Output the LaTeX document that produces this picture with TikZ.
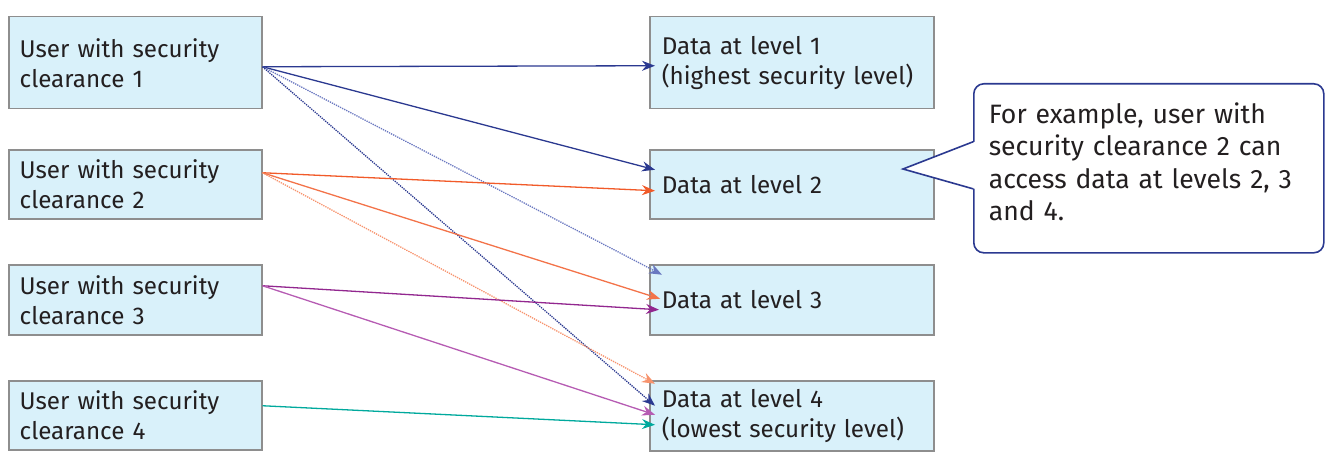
\documentclass[tikz,border=0pt]{standalone}
\usepackage{fontspec}
\setmainfont{Fira Sans}
\usetikzlibrary{arrows.meta}
\definecolor{boxfill}{HTML}{D9F1FA}
\definecolor{boxline}{HTML}{8E8E8E}
\definecolor{txt}{HTML}{231F20}
\definecolor{dblue}{HTML}{2B3990}
\definecolor{lblue}{HTML}{6A78C0}
\definecolor{orng}{HTML}{F15A29}
\definecolor{lorng}{HTML}{F7936D}
\definecolor{purp}{HTML}{92278F}
\definecolor{lpurp}{HTML}{B65CB3}
\definecolor{teal}{HTML}{00A99D}
\tikzset{
  box/.style={draw=boxline, line width=1.5pt, fill=boxfill, anchor=north west,
    align=left, inner xsep=11pt, inner ysep=0pt, text=txt,
    font=\fontsize{24.2}{30}\selectfont},
  leftbox/.style={box, minimum width=253pt, text width=231pt},
  rightbox/.style={box, minimum width=284pt, text width=260pt, inner xsep=12pt},
  conn/.style={line width=1.3pt, -{Stealth[length=13pt,width=10pt]}},
  calloutbox/.style={draw=dblue, line width=1.6pt, fill=white, rounded corners=10pt,
    anchor=north west, minimum width=345pt, minimum height=169pt,
    align=left, text width=320pt, inner xsep=15pt, text=txt,
    font=\fontsize{26.6}{32.5}\selectfont}
}
\begin{document}
\begin{tikzpicture}[x=1pt,y=-1pt]
\useasboundingbox (0,0) rectangle (1337,468);
% left boxes
\node[leftbox, minimum height=92pt] (u1) at (8,16) {User with security\\clearance 1};
\node[leftbox, minimum height=69pt] (u2) at (8,149) {User with security\\clearance 2};
\node[leftbox, minimum height=70pt] (u3) at (8,264) {User with security\\clearance 3};
\node[leftbox, minimum height=69pt] (u4) at (8,380) {User with security\\clearance 4};
% right boxes
\node[rightbox, minimum height=92pt] (d1) at (649,16) {Data at level 1\\(highest security level)};
\node[rightbox, minimum height=69pt] (d2) at (649,149) {Data at level 2};
\node[rightbox, minimum height=70pt] (d3) at (649,264) {Data at level 3};
\node[rightbox, minimum height=70pt] (d4) at (649,380) {Data at level 4\\(lowest security level)};
% connectors
\draw[conn, dblue] ([yshift=-4pt]u1.east) -- ([xshift=6pt,yshift=-3pt]d1.west);
\draw[conn, dblue] ([yshift=-4pt]u1.east) -- ([xshift=6pt,yshift=14.5pt]d2.west);
\draw[conn, lblue, densely dotted] ([yshift=-4pt]u1.east) -- ([xshift=13pt,yshift=25pt]d3.west);
\draw[conn, dblue, densely dotted] ([yshift=-4pt]u1.east) -- ([xshift=6pt,yshift=10pt]d4.west);
\draw[conn, orng] ([yshift=11.5pt]u2.east) -- ([xshift=6pt,yshift=-6.5pt]d2.west);
\draw[conn, orng!85] ([yshift=11.5pt]u2.east) -- ([xshift=11pt,yshift=1pt]d3.west);
\draw[conn, lorng, densely dotted] ([yshift=11.5pt]u2.east) -- ([xshift=6pt,yshift=32pt]d4.west);
\draw[conn, purp] ([yshift=14pt]u3.east) -- ([xshift=10pt,yshift=-10pt]d3.west);
\draw[conn, lpurp] ([yshift=14pt]u3.east) -- ([xshift=6pt,yshift=1pt]d4.west);
\draw[conn, teal] ([yshift=9.5pt]u4.east) -- ([xshift=6pt,yshift=-9pt]d4.west);
% callout
\node[calloutbox] (note) at (973,83) {For example, user with\\security clearance 2 can\\access data at levels 2, 3\\and 4.\vspace{13pt}};
\coordinate (tip) at (903,169);
\fill[white] ([xshift=2pt,yshift=26.5pt]note.west) -- (tip) -- ([xshift=2pt,yshift=-20.5pt]note.west) -- cycle;
\draw[dblue, line width=1.6pt, line join=miter] ([yshift=26.5pt]note.west) -- (tip) -- ([yshift=-20.5pt]note.west);
\end{tikzpicture}
\end{document}
